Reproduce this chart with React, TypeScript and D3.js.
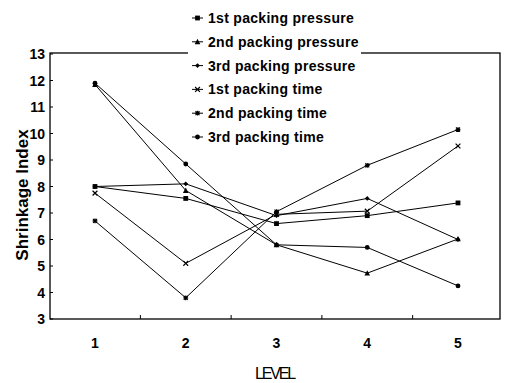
import React from "react";
import * as d3 from "d3";

const levels = [1, 2, 3, 4, 5];
const yTicks = [3, 4, 5, 6, 7, 8, 9, 10, 11, 12, 13];
const seriesNames = [
  "1st packing pressure",
  "2nd packing pressure",
  "3rd packing pressure",
  "1st packing time",
  "2nd packing time",
  "3rd packing time",
];
const pp1 = [8.0, 7.55, 6.6, 6.9, 7.38];
const pp2 = [11.85, 7.85, 5.8, 4.73, 6.02];
const pp3 = [8.0, 8.1, 6.9, 7.55, 6.0];
const pt1 = [7.75, 5.1, 6.95, 7.07, 9.53];
const pt2 = [6.7, 3.8, 7.05, 8.8, 10.15];
const pt3 = [11.9, 8.85, 5.8, 5.7, 4.25];
const seriesValues = [pp1, pp2, pp3, pt1, pt2, pt3];
const markerTypes = ["square", "triangle", "diamond", "cross", "star", "circle"];

const W = 505;
const H = 383;
const plot = { left: 50, right: 500, top: 53, bottom: 319 };
const FONT = "'Liberation Sans', Arial, sans-serif";

function Marker({ type, x, y }: { type: string; x: number; y: number }) {
  const s = 2.4;
  if (type === "square")
    return <rect x={x - s} y={y - s} width={2 * s} height={2 * s} fill="#000" />;
  if (type === "triangle")
    return (
      <path d={`M${x},${y - s - 0.6}L${x + s + 0.4},${y + s}L${x - s - 0.4},${y + s}Z`} fill="#000" />
    );
  if (type === "diamond")
    return <path d={`M${x},${y - s}L${x + s},${y}L${x},${y + s}L${x - s},${y}Z`} fill="#000" />;
  if (type === "cross")
    return (
      <path
        d={`M${x - s},${y - s}L${x + s},${y + s}M${x - s},${y + s}L${x + s},${y - s}`}
        stroke="#000"
        strokeWidth={1.2}
      />
    );
  if (type === "star")
    return (
      <path
        d={`M${x - s},${y}L${x + s},${y}M${x},${y - s}L${x},${y + s}M${x - 2},${y - 2}L${x + 2},${y + 2}M${x - 2},${y + 2}L${x + 2},${y - 2}`}
        stroke="#000"
        strokeWidth={1.2}
      />
    );
  return <circle cx={x} cy={y} r={s} fill="#000" />;
}

export default function App() {
  const x = d3.scaleLinear().domain([1, 5]).range([95, 458]);
  const y = d3.scaleLinear().domain([3, 13]).range([plot.bottom, 54]);
  const line = d3
    .line<number>()
    .x((_, i) => x(levels[i]))
    .y((d) => y(d));
  const midTicks = [1.5, 2.5, 3.5, 4.5];
  const legendTop = 18;
  const legendStep = 23.8;

  return (
    <svg
      width={W}
      height={H}
      style={{ position: "absolute", left: 0, top: 0, background: "#fff" }}
      fontFamily={FONT}
    >
      <rect x={0} y={0} width={W} height={H} fill="#fff" />
      {/* plot frame */}
      <rect
        x={plot.left}
        y={plot.top}
        width={plot.right - plot.left}
        height={plot.bottom - plot.top}
        fill="none"
        stroke="#000"
        strokeWidth={1.3}
      />
      {/* y ticks */}
      {yTicks.map((t) => (
        <g key={t}>
          <line x1={plot.left} x2={plot.left + 3} y1={y(t)} y2={y(t)} stroke="#000" />
          <text
            x={45}
            y={y(t) + 5}
            fontSize={14}
            fontWeight="bold"
            textAnchor="end"
            fill="#000"
          >
            {t}
          </text>
        </g>
      ))}
      {/* x minor ticks */}
      {midTicks.map((t) => (
        <line key={t} x1={x(t)} x2={x(t)} y1={plot.bottom} y2={plot.bottom - 4} stroke="#000" />
      ))}
      {levels.map((l) => (
        <text key={l} x={x(l)} y={348} fontSize={14} fontWeight="bold" textAnchor="middle" fill="#000">
          {l}
        </text>
      ))}
      <text
        x={x(3) - 2}
        y={379}
        fontSize={16}
        textAnchor="middle"
        fill="#000"
        letterSpacing={-2.2}
      >
        LEVEL
      </text>
      <text
        transform={`translate(28,195) rotate(-90)`}
        fontSize={17}
        fontWeight="bold"
        textAnchor="middle"
        fill="#000"
      >
        Shrinkage Index
      </text>
      {/* series */}
      {seriesValues.map((vals, si) => (
        <g key={si}>
          <path d={line(vals) || ""} fill="none" stroke="#000" strokeWidth={1} />
          {vals.map((v, i) => (
            <Marker key={i} type={markerTypes[si]} x={x(levels[i])} y={y(v)} />
          ))}
        </g>
      ))}
      {/* legend */}
      <rect x={188} y={4} width={173} height={146} fill="#fff" />
      {seriesNames.map((n, i) => {
        const cy = legendTop + i * legendStep;
        return (
          <g key={n}>
            <line x1={192} x2={203} y1={cy} y2={cy} stroke="#000" />
            <Marker type={markerTypes[i]} x={197.5} y={cy} />
            <text x={208} y={cy + 5} fontSize={14} fontWeight="bold" fill="#000" letterSpacing={0.3}>
              {n}
            </text>
          </g>
        );
      })}
    </svg>
  );
}
